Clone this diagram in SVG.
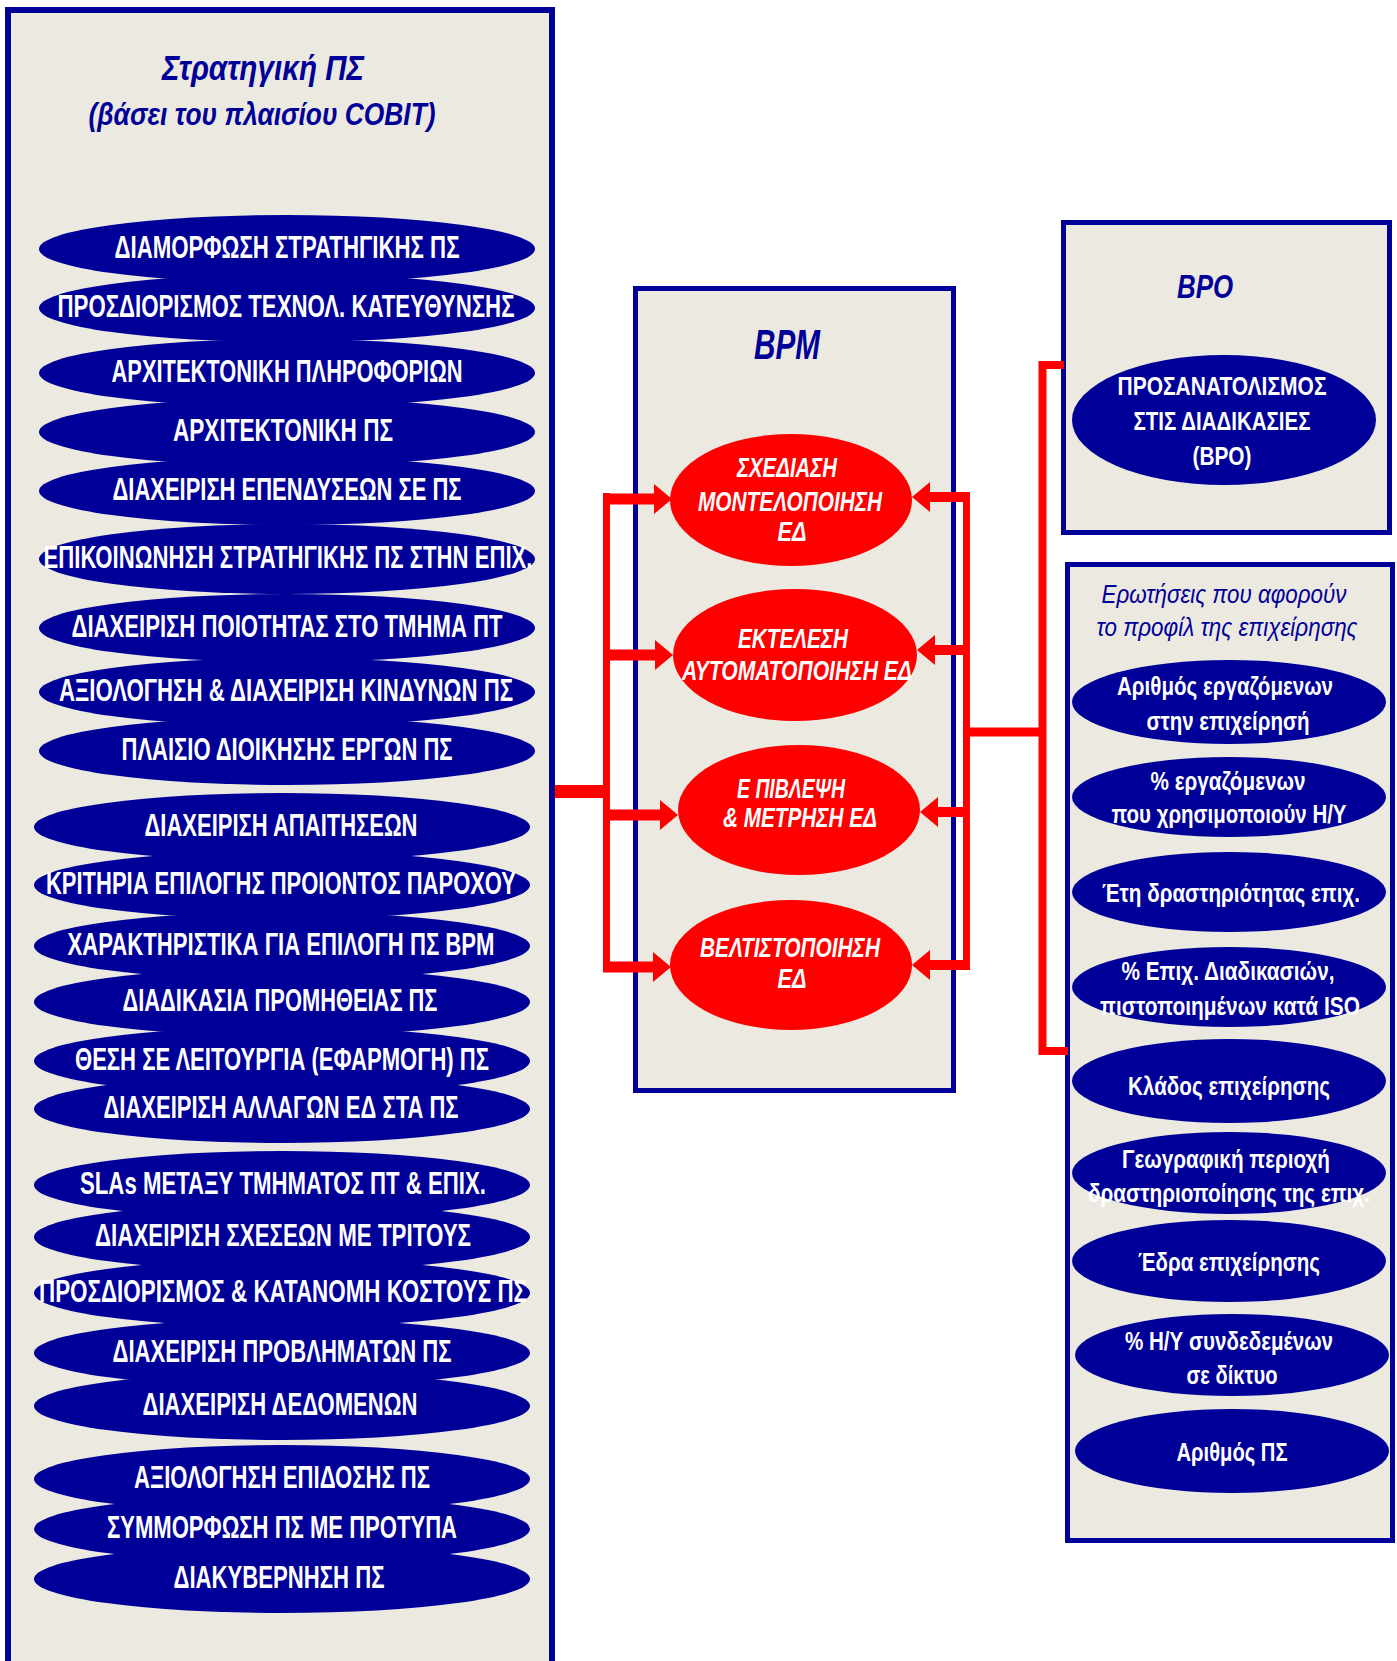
<svg xmlns="http://www.w3.org/2000/svg" width="1397" height="1661" viewBox="0 0 1397 1661">
<style>
  .panel{fill:#ECE9E0;stroke:#000099;stroke-width:6}
  .box{fill:#ECE9E0;stroke:#000099;stroke-width:5}
  .nav{fill:#000099}
  .red{fill:#FF0000}
  .t{font-family:"Liberation Sans Narrow","Liberation Sans",Arial,sans-serif;text-anchor:middle}
  .lt{font-size:31px;font-weight:bold;fill:#FFFFFF}
  .qt{font-size:26px;font-weight:bold;fill:#FFFFFF}
  .rt{font-size:28px;font-weight:bold;font-style:italic;fill:#FFFFFF}
  .hd{font-weight:bold;font-style:italic;fill:#000099}
  .hn{font-style:italic;fill:#000099}
  .conn{fill:none;stroke:#FF0000;stroke-linejoin:miter}
</style>
<defs>
  <marker id="ah" markerUnits="userSpaceOnUse" markerWidth="18" markerHeight="30" viewBox="0 0 18 30" refX="10" refY="15" orient="auto">
    <path d="M0,0 L18,15 L0,30 Z" fill="#FF0000"/>
  </marker>
</defs>
<rect width="1397" height="1661" fill="#FFFFFF"/>

<!-- Left panel: Strategic IS -->
<g id="panel-strategy">
  <rect class="panel" x="8" y="10" width="544" height="1700"/>
  <text class="t hd" x="263" y="80" font-size="36" textLength="202" lengthAdjust="spacingAndGlyphs">Στρατηγική ΠΣ</text>
  <text class="t hd" x="262" y="125" font-size="32" textLength="347" lengthAdjust="spacingAndGlyphs">(βάσει του πλαισίου COBIT)</text>
</g>

<g id="s01"><ellipse class="nav" cx="287" cy="249" rx="248" ry="34"/><text class="t lt" x="287" y="258" textLength="345" lengthAdjust="spacingAndGlyphs">ΔΙΑΜΟΡΦΩΣΗ ΣΤΡΑΤΗΓΙΚΗΣ ΠΣ</text></g>
<g id="s02"><ellipse class="nav" cx="287" cy="308" rx="248" ry="34"/><text class="t lt" x="286" y="317" textLength="457" lengthAdjust="spacingAndGlyphs">ΠΡΟΣΔΙΟΡΙΣΜΟΣ ΤΕΧΝΟΛ. ΚΑΤΕΥΘΥΝΣΗΣ</text></g>
<g id="s03"><ellipse class="nav" cx="287" cy="373" rx="248" ry="34"/><text class="t lt" x="287" y="382" textLength="351" lengthAdjust="spacingAndGlyphs">ΑΡΧΙΤΕΚΤΟΝΙΚΗ ΠΛΗΡΟΦΟΡΙΩΝ</text></g>
<g id="s04"><ellipse class="nav" cx="287" cy="432" rx="248" ry="34"/><text class="t lt" x="283" y="441" textLength="220" lengthAdjust="spacingAndGlyphs">ΑΡΧΙΤΕΚΤΟΝΙΚΗ  ΠΣ</text></g>
<g id="s05"><ellipse class="nav" cx="287" cy="491" rx="248" ry="34"/><text class="t lt" x="287" y="500" textLength="349" lengthAdjust="spacingAndGlyphs">ΔΙΑΧΕΙΡΙΣΗ ΕΠΕΝΔΥΣΕΩΝ ΣΕ ΠΣ</text></g>
<g id="s06"><ellipse class="nav" cx="287" cy="559" rx="248" ry="35"/><text class="t lt" x="288" y="568" textLength="489" lengthAdjust="spacingAndGlyphs">ΕΠΙΚΟΙΝΩΝΗΣΗ ΣΤΡΑΤΗΓΙΚΗΣ ΠΣ ΣΤΗΝ ΕΠΙΧ.</text></g>
<g id="s07"><ellipse class="nav" cx="287" cy="628" rx="248" ry="34"/><text class="t lt" x="287" y="637" textLength="431" lengthAdjust="spacingAndGlyphs">ΔΙΑΧΕΙΡΙΣΗ ΠΟΙΟΤΗΤΑΣ ΣΤΟ ΤΜΗΜΑ ΠΤ</text></g>
<g id="s08"><ellipse class="nav" cx="287" cy="692" rx="248" ry="34"/><text class="t lt" x="286" y="701" textLength="454" lengthAdjust="spacingAndGlyphs">ΑΞΙΟΛΟΓΗΣΗ &amp; ΔΙΑΧΕΙΡΙΣΗ ΚΙΝΔΥΝΩΝ ΠΣ</text></g>
<g id="s09"><ellipse class="nav" cx="287" cy="751" rx="248" ry="34"/><text class="t lt" x="287" y="760" textLength="331" lengthAdjust="spacingAndGlyphs">ΠΛΑΙΣΙΟ ΔΙΟΙΚΗΣΗΣ ΕΡΓΩΝ ΠΣ</text></g>
<g id="s10"><ellipse class="nav" cx="282" cy="827" rx="248" ry="34"/><text class="t lt" x="281" y="836" textLength="273" lengthAdjust="spacingAndGlyphs">ΔΙΑΧΕΙΡΙΣΗ ΑΠΑΙΤΗΣΕΩΝ</text></g>
<g id="s11"><ellipse class="nav" cx="282" cy="885" rx="248" ry="34"/><text class="t lt" x="281" y="894" textLength="470" lengthAdjust="spacingAndGlyphs">ΚΡΙΤΗΡΙΑ ΕΠΙΛΟΓΗΣ ΠΡΟΙΟΝΤΟΣ ΠΑΡΟΧΟΥ</text></g>
<g id="s12"><ellipse class="nav" cx="282" cy="946" rx="248" ry="34"/><text class="t lt" x="281" y="955" textLength="427" lengthAdjust="spacingAndGlyphs">ΧΑΡΑΚΤΗΡΙΣΤΙΚΑ ΓΙΑ ΕΠΙΛΟΓΗ ΠΣ BPM</text></g>
<g id="s13"><ellipse class="nav" cx="282" cy="1002" rx="248" ry="34"/><text class="t lt" x="280" y="1011" textLength="315" lengthAdjust="spacingAndGlyphs">ΔΙΑΔΙΚΑΣΙΑ ΠΡΟΜΗΘΕΙΑΣ ΠΣ</text></g>
<g id="s14"><ellipse class="nav" cx="282" cy="1061" rx="248" ry="34"/><text class="t lt" x="282" y="1070" textLength="414" lengthAdjust="spacingAndGlyphs">ΘΕΣΗ ΣΕ ΛΕΙΤΟΥΡΓΙΑ (ΕΦΑΡΜΟΓΗ) ΠΣ</text></g>
<g id="s15"><ellipse class="nav" cx="282" cy="1109" rx="248" ry="34"/><text class="t lt" x="281" y="1118" textLength="355" lengthAdjust="spacingAndGlyphs">ΔΙΑΧΕΙΡΙΣΗ ΑΛΛΑΓΩΝ ΕΔ ΣΤΑ ΠΣ</text></g>
<g id="s16"><ellipse class="nav" cx="282" cy="1185" rx="248" ry="34"/><text class="t lt" x="283" y="1194" textLength="406" lengthAdjust="spacingAndGlyphs">SLAs ΜΕΤΑΞΥ ΤΜΗΜΑΤΟΣ ΠΤ &amp; ΕΠΙΧ.</text></g>
<g id="s17"><ellipse class="nav" cx="282" cy="1237" rx="248" ry="34"/><text class="t lt" x="283" y="1246" textLength="376" lengthAdjust="spacingAndGlyphs">ΔΙΑΧΕΙΡΙΣΗ ΣΧΕΣΕΩΝ  ΜΕ ΤΡΙΤΟΥΣ</text></g>
<g id="s18"><ellipse class="nav" cx="282" cy="1293" rx="248" ry="34"/><text class="t lt" x="283" y="1302" textLength="488" lengthAdjust="spacingAndGlyphs">ΠΡΟΣΔΙΟΡΙΣΜΟΣ &amp; ΚΑΤΑΝΟΜΗ ΚΟΣΤΟΥΣ ΠΣ</text></g>
<g id="s19"><ellipse class="nav" cx="282" cy="1353" rx="248" ry="34"/><text class="t lt" x="282" y="1362" textLength="339" lengthAdjust="spacingAndGlyphs">ΔΙΑΧΕΙΡΙΣΗ ΠΡΟΒΛΗΜΑΤΩΝ ΠΣ</text></g>
<g id="s20"><ellipse class="nav" cx="282" cy="1406" rx="248" ry="34"/><text class="t lt" x="280" y="1415" textLength="275" lengthAdjust="spacingAndGlyphs">ΔΙΑΧΕΙΡΙΣΗ ΔΕΔΟΜΕΝΩΝ</text></g>
<g id="s21"><ellipse class="nav" cx="282" cy="1479" rx="248" ry="34"/><text class="t lt" x="282" y="1488" textLength="296" lengthAdjust="spacingAndGlyphs">ΑΞΙΟΛΟΓΗΣΗ ΕΠΙΔΟΣΗΣ ΠΣ</text></g>
<g id="s22"><ellipse class="nav" cx="282" cy="1529" rx="248" ry="34"/><text class="t lt" x="282" y="1538" textLength="350" lengthAdjust="spacingAndGlyphs">ΣΥΜΜΟΡΦΩΣΗ ΠΣ ΜΕ ΠΡΟΤΥΠΑ</text></g>
<g id="s23"><ellipse class="nav" cx="282" cy="1579" rx="248" ry="34"/><text class="t lt" x="279" y="1588" textLength="211" lengthAdjust="spacingAndGlyphs">ΔΙΑΚΥΒΕΡΝΗΣΗ ΠΣ</text></g>

<!-- BPM panel -->
<g id="panel-bpm">
  <rect class="box" x="635.5" y="288.5" width="318" height="802"/>
  <text class="t hd" x="787" y="359" font-size="42" textLength="66" lengthAdjust="spacingAndGlyphs">BPM</text>
</g>
<g id="bpm1"><ellipse class="red" cx="791" cy="500" rx="121" ry="66"/>
  <text class="t rt" x="787" y="477" textLength="100" lengthAdjust="spacingAndGlyphs">ΣΧΕΔΙΑΣΗ</text>
  <text class="t rt" x="790" y="511" textLength="184" lengthAdjust="spacingAndGlyphs">ΜΟΝΤΕΛΟΠΟΙΗΣΗ</text>
  <text class="t rt" x="792" y="541" textLength="29" lengthAdjust="spacingAndGlyphs">ΕΔ</text></g>
<g id="bpm2"><ellipse class="red" cx="795" cy="655" rx="122" ry="66"/>
  <text class="t rt" x="793" y="648" textLength="110" lengthAdjust="spacingAndGlyphs">ΕΚΤΕΛΕΣΗ</text>
  <text class="t rt" x="797" y="680" textLength="230" lengthAdjust="spacingAndGlyphs">ΑΥΤΟΜΑΤΟΠΟΙΗΣΗ ΕΔ</text></g>
<g id="bpm3"><ellipse class="red" cx="799" cy="810" rx="121" ry="65"/>
  <text class="t rt" x="791" y="798" textLength="108" lengthAdjust="spacingAndGlyphs">Ε ΠΙΒΛΕΨΗ</text>
  <text class="t rt" x="800" y="827" textLength="154" lengthAdjust="spacingAndGlyphs">&amp; ΜΕΤΡΗΣΗ ΕΔ</text></g>
<g id="bpm4"><ellipse class="red" cx="791" cy="965" rx="121" ry="65"/>
  <text class="t rt" x="790" y="957" textLength="180" lengthAdjust="spacingAndGlyphs">ΒΕΛΤΙΣΤΟΠΟΙΗΣΗ</text>
  <text class="t rt" x="792" y="988" textLength="29" lengthAdjust="spacingAndGlyphs">ΕΔ</text></g>

<!-- BPO panel -->
<g id="panel-bpo">
  <rect class="box" x="1063.5" y="222.5" width="326" height="310"/>
  <text class="t hn" x="1205" y="298" font-size="33" font-weight="bold" textLength="56" lengthAdjust="spacingAndGlyphs">BPO</text>
</g>
<g id="bpo1"><ellipse class="nav" cx="1224" cy="420" rx="152" ry="65"/>
  <text class="t qt" x="1222" y="395" textLength="209" lengthAdjust="spacingAndGlyphs">ΠΡΟΣΑΝΑΤΟΛΙΣΜΟΣ</text>
  <text class="t qt" x="1222" y="430" textLength="177" lengthAdjust="spacingAndGlyphs">ΣΤΙΣ ΔΙΑΔΙΚΑΣΙΕΣ</text>
  <text class="t qt" x="1222" y="465" textLength="59" lengthAdjust="spacingAndGlyphs">(BPO)</text></g>

<!-- Profile questions panel -->
<g id="panel-questions">
  <rect class="box" x="1067.5" y="564.5" width="325" height="976"/>
  <text class="t hn" x="1224" y="603" font-size="26" textLength="245" lengthAdjust="spacingAndGlyphs">Ερωτήσεις που αφορούν</text>
  <text class="t hn" x="1227" y="636" font-size="26" textLength="261" lengthAdjust="spacingAndGlyphs">το προφίλ της επιχείρησης</text>
</g>
<g id="q1"><ellipse class="nav" cx="1229" cy="702" rx="157" ry="42"/>
  <text class="t qt" x="1225" y="695" textLength="216" lengthAdjust="spacingAndGlyphs">Αριθμός εργαζόμενων</text>
  <text class="t qt" x="1228" y="730" textLength="163" lengthAdjust="spacingAndGlyphs">στην επιχείρησή</text></g>
<g id="q2"><ellipse class="nav" cx="1229" cy="797" rx="157" ry="40"/>
  <text class="t qt" x="1228" y="790" textLength="155" lengthAdjust="spacingAndGlyphs">% εργαζόμενων</text>
  <text class="t qt" x="1229" y="823" textLength="235" lengthAdjust="spacingAndGlyphs">που χρησιμοποιούν Η/Υ</text></g>
<g id="q3"><ellipse class="nav" cx="1229" cy="892" rx="157" ry="40"/>
  <text class="t qt" x="1231" y="902" textLength="258" lengthAdjust="spacingAndGlyphs">Έτη δραστηριότητας επιχ.</text></g>
<g id="q4"><ellipse class="nav" cx="1229" cy="987" rx="157" ry="40"/>
  <text class="t qt" x="1228" y="980" textLength="213" lengthAdjust="spacingAndGlyphs">% Επιχ. Διαδικασιών,</text>
  <text class="t qt" x="1230" y="1015" textLength="260" lengthAdjust="spacingAndGlyphs">πιστοποιημένων κατά ISO</text></g>
<g id="q5"><ellipse class="nav" cx="1229" cy="1081" rx="157" ry="42"/>
  <text class="t qt" x="1229" y="1095" textLength="202" lengthAdjust="spacingAndGlyphs">Κλάδος επιχείρησης</text></g>
<g id="q6"><ellipse class="nav" cx="1229" cy="1173" rx="157" ry="41"/>
  <text class="t qt" x="1226" y="1168" textLength="208" lengthAdjust="spacingAndGlyphs">Γεωγραφική περιοχή</text>
  <text class="t qt" x="1229" y="1202" textLength="282" lengthAdjust="spacingAndGlyphs">δραστηριοποίησης της επιχ.</text></g>
<g id="q7"><ellipse class="nav" cx="1229" cy="1261" rx="157" ry="41"/>
  <text class="t qt" x="1229" y="1271" textLength="182" lengthAdjust="spacingAndGlyphs">Έδρα επιχείρησης</text></g>
<g id="q8"><ellipse class="nav" cx="1232" cy="1355" rx="157" ry="41"/>
  <text class="t qt" x="1229" y="1350" textLength="208" lengthAdjust="spacingAndGlyphs">% Η/Υ συνδεδεμένων</text>
  <text class="t qt" x="1232" y="1384" textLength="91" lengthAdjust="spacingAndGlyphs">σε δίκτυο</text></g>
<g id="q9"><ellipse class="nav" cx="1232" cy="1451" rx="157" ry="42"/>
  <text class="t qt" x="1232" y="1461" textLength="111" lengthAdjust="spacingAndGlyphs">Αριθμός ΠΣ</text></g>

<!-- Connectors -->
<g id="connectors">
  <path class="conn" stroke-width="13" d="M555,791.5 H610"/>
  <path class="conn" stroke-width="7" d="M606.5,493 V972"/>
  <line class="conn" stroke-width="11" x1="603" y1="499" x2="664" y2="499" marker-end="url(#ah)"/>
  <line class="conn" stroke-width="11" x1="603" y1="655" x2="665" y2="655" marker-end="url(#ah)"/>
  <line class="conn" stroke-width="11" x1="603" y1="815" x2="670" y2="815" marker-end="url(#ah)"/>
  <line class="conn" stroke-width="11" x1="603" y1="967" x2="663" y2="967" marker-end="url(#ah)"/>
  <path class="conn" stroke-width="7" d="M966.5,492 V970"/>
  <line class="conn" stroke-width="10" x1="970" y1="497" x2="920" y2="497" marker-end="url(#ah)"/>
  <line class="conn" stroke-width="10" x1="970" y1="650" x2="925" y2="650" marker-end="url(#ah)"/>
  <line class="conn" stroke-width="10" x1="970" y1="812" x2="928" y2="812" marker-end="url(#ah)"/>
  <line class="conn" stroke-width="10" x1="970" y1="965" x2="920" y2="965" marker-end="url(#ah)"/>
  <path class="conn" stroke-width="9" d="M963,732 H1046"/>
  <path class="conn" stroke-width="8" d="M1064,365 H1042.5 V1051 H1068"/>
</g>
</svg>
